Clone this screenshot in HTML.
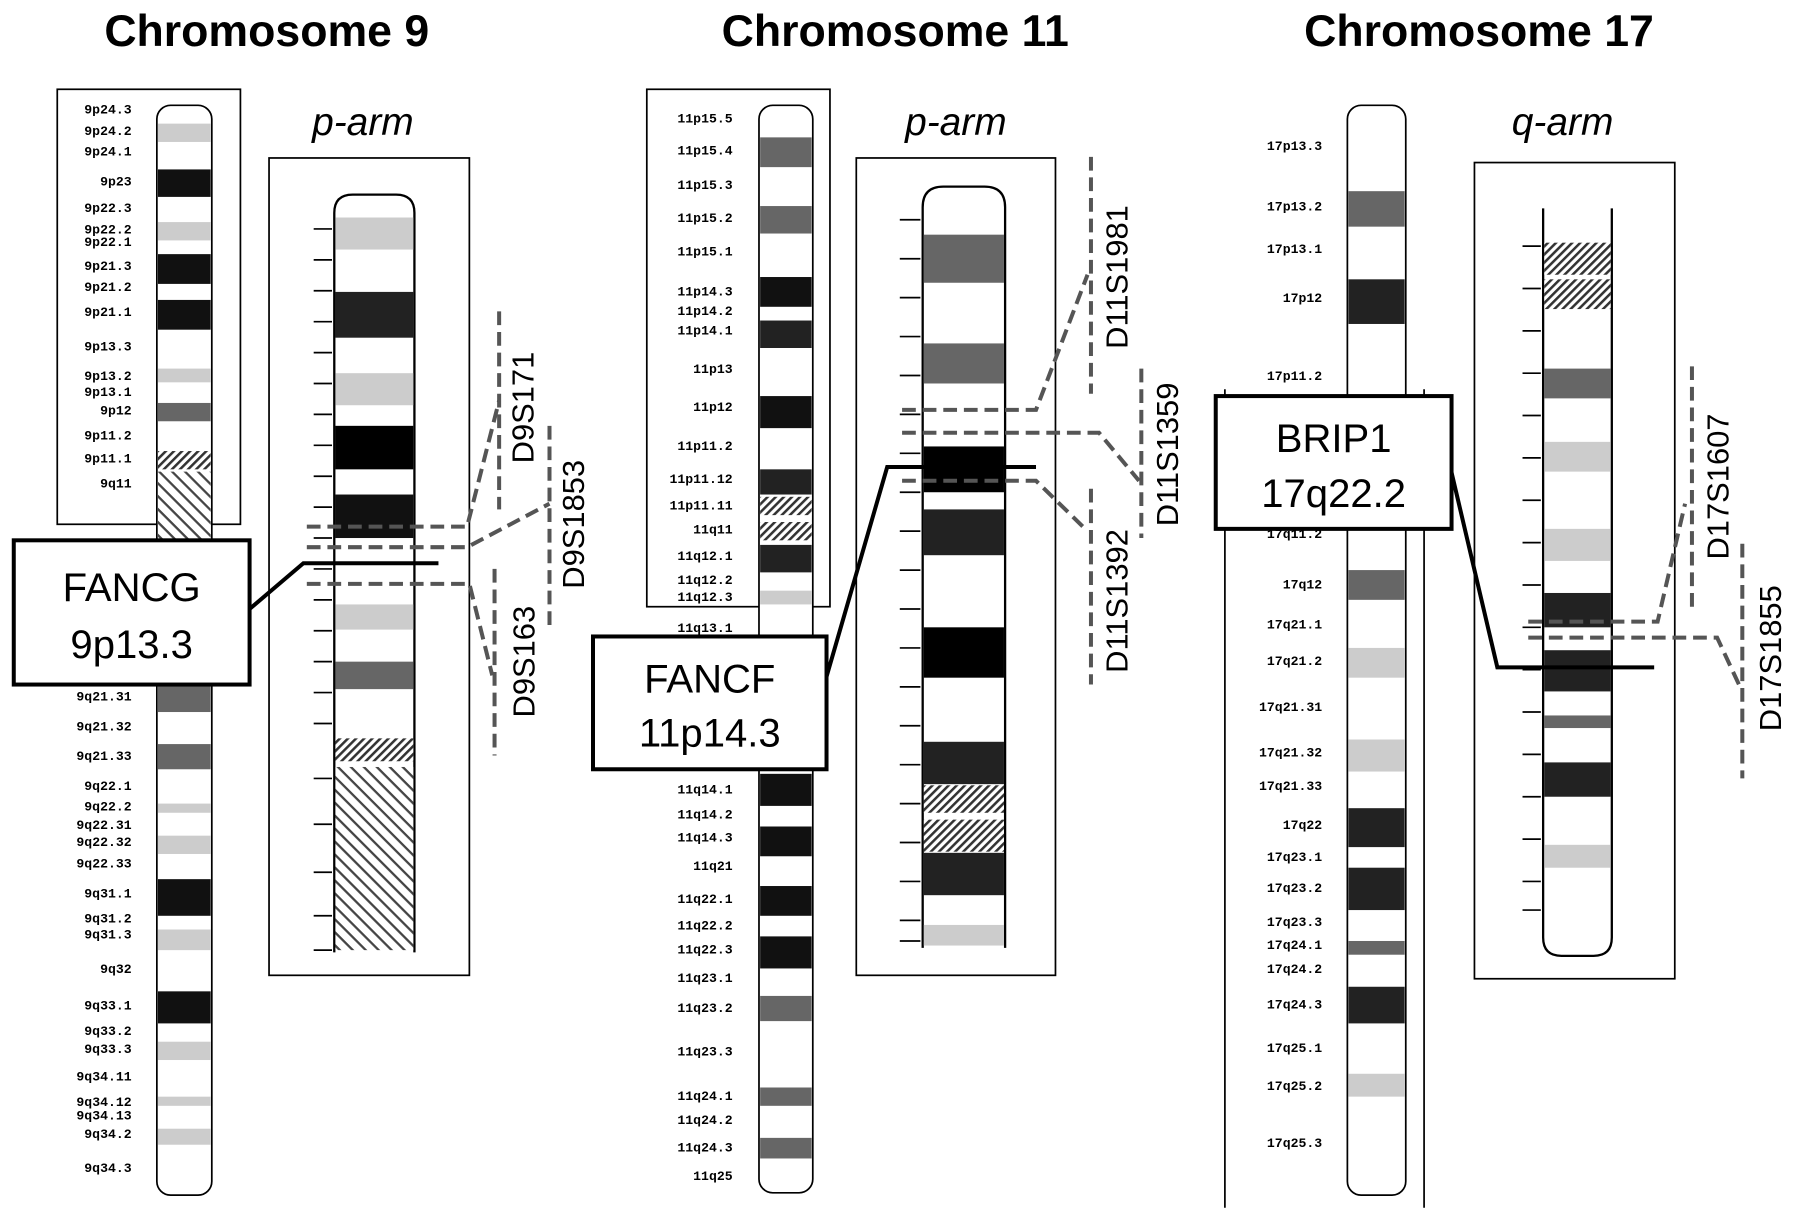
<!DOCTYPE html>
<html><head><meta charset="utf-8"><style>html,body{margin:0;padding:0;background:#fff}svg{display:block}</style></head>
<body>
<svg width="1795" height="1218" viewBox="0 0 1568 1064" xmlns="http://www.w3.org/2000/svg" font-family="Liberation Sans, sans-serif">
<defs>
<pattern id="h" width="5" height="5" patternUnits="userSpaceOnUse" patternTransform="rotate(-45)"><rect width="5" height="5" fill="#fff"/><rect width="5" height="2.2" fill="#333"/></pattern>
<pattern id="h2" width="8" height="8" patternUnits="userSpaceOnUse" patternTransform="rotate(45)"><rect width="8" height="8" fill="#fff"/><rect width="8" height="2" fill="#444"/></pattern>
</defs>
<g font-weight="bold" font-size="39" text-anchor="middle">
<text x="233" y="40">Chromosome 9</text><text x="782" y="40">Chromosome 11</text><text x="1292" y="40">Chromosome 17</text></g>
<g font-style="italic" font-size="34" text-anchor="middle">
<text x="317" y="118">p-arm</text><text x="835" y="118">p-arm</text><text x="1365" y="118">q-arm</text></g>

<!-- CHR 9 ideogram -->
<rect x="50" y="78" width="160" height="380" fill="none" stroke="#000" stroke-width="1.5"/>
<rect x="137" y="92" width="48" height="952" rx="12" fill="#fff" stroke="#000" stroke-width="1.5"/>
<g fill="#ccc"><rect x="138" y="108" width="46" height="16"/><rect x="138" y="194" width="46" height="16"/><rect x="138" y="322" width="46" height="12"/><rect x="138" y="702" width="46" height="8"/><rect x="138" y="730" width="46" height="16"/><rect x="138" y="812" width="46" height="18"/><rect x="138" y="910" width="46" height="16"/><rect x="138" y="958" width="46" height="8"/><rect x="138" y="986" width="46" height="14"/></g>
<g fill="#111"><rect x="138" y="148" width="46" height="24"/><rect x="138" y="222" width="46" height="26"/><rect x="138" y="262" width="46" height="26"/><rect x="138" y="768" width="46" height="32"/><rect x="138" y="866" width="46" height="28"/></g>
<g fill="#666"><rect x="138" y="352" width="46" height="16"/><rect x="138" y="598" width="46" height="24"/><rect x="138" y="650" width="46" height="22"/></g>
<rect x="138" y="394" width="46" height="16" fill="url(#h)"/><rect x="138" y="412" width="46" height="60" fill="url(#h2)"/>
<g font-family="Liberation Mono, monospace" font-size="11.5" font-weight="bold" text-anchor="end">
<text x="115" y="99">9p24.3</text><text x="115" y="118">9p24.2</text><text x="115" y="136">9p24.1</text><text x="115" y="162">9p23</text><text x="115" y="185">9p22.3</text><text x="115" y="204">9p22.2</text><text x="115" y="215">9p22.1</text><text x="115" y="236">9p21.3</text><text x="115" y="254">9p21.2</text><text x="115" y="276">9p21.1</text><text x="115" y="306">9p13.3</text><text x="115" y="332">9p13.2</text><text x="115" y="346">9p13.1</text><text x="115" y="362">9p12</text><text x="115" y="384">9p11.2</text><text x="115" y="404">9p11.1</text><text x="115" y="426">9q11</text><text x="115" y="612">9q21.31</text><text x="115" y="638">9q21.32</text><text x="115" y="664">9q21.33</text><text x="115" y="690">9q22.1</text><text x="115" y="708">9q22.2</text><text x="115" y="724">9q22.31</text><text x="115" y="739">9q22.32</text><text x="115" y="758">9q22.33</text><text x="115" y="784">9q31.1</text><text x="115" y="806">9q31.2</text><text x="115" y="820">9q31.3</text><text x="115" y="850">9q32</text><text x="115" y="882">9q33.1</text><text x="115" y="904">9q33.2</text><text x="115" y="920">9q33.3</text><text x="115" y="944">9q34.11</text><text x="115" y="966">9q34.12</text><text x="115" y="978">9q34.13</text><text x="115" y="994">9q34.2</text><text x="115" y="1024">9q34.3</text></g>
<!-- 9 p-arm -->
<rect x="235" y="138" width="175" height="714" fill="none" stroke="#000" stroke-width="1.5"/>
<path d="M292 832 V186 Q292 170 308 170 H346 Q362 170 362 186 V832" fill="#fff" stroke="#000" stroke-width="2"/>
<g fill="#ccc"><rect x="293" y="190" width="68" height="28"/><rect x="293" y="326" width="68" height="28"/><rect x="293" y="528" width="68" height="22"/></g>
<rect x="293" y="255" width="68" height="40" fill="#222"/><rect x="293" y="372" width="68" height="38" fill="#000"/><rect x="293" y="432" width="68" height="38" fill="#111"/><rect x="293" y="578" width="68" height="24" fill="#666"/>
<rect x="293" y="645" width="68" height="20" fill="url(#h)"/><rect x="293" y="670" width="68" height="160" fill="url(#h2)"/>
<path d="M274 200 H290 M274 227 H290 M274 254 H290 M274 281 H290 M274 308 H290 M274 335 H290 M274 362 H290 M274 389 H290 M274 416 H290 M274 443 H290 M274 470 H290 M274 497 H290 M274 524 H290 M274 551 H290 M274 578 H290 M274 605 H290 M274 632 H290 M274 680 H290 M274 720 H290 M274 762 H290 M274 800 H290 M274 830 H290" stroke="#000" stroke-width="1.5"/>
<g stroke="#555" stroke-width="3.5" stroke-dasharray="12,6" fill="none">
<path d="M268 460 H408 L436 350"/><path d="M436 272 V445"/>
<path d="M268 478 H408 L480 440"/><path d="M480 372 V550"/>
<path d="M268 510 H410 L430 590"/><path d="M432 497 V660"/></g>
<path d="M218 532 L265 492 H383" stroke="#000" stroke-width="3.5" fill="none"/>
<rect x="12" y="472" width="206" height="126" fill="#fff" stroke="#000" stroke-width="3.5"/>
<text x="115" y="525" font-size="35" text-anchor="middle">FANCG</text><text x="115" y="575" font-size="35" text-anchor="middle">9p13.3</text>
<g font-size="27" text-anchor="middle"><text transform="translate(466 356) rotate(-90)">D9S171</text><text transform="translate(510 458) rotate(-90)">D9S1853</text><text transform="translate(467 578) rotate(-90)">D9S163</text></g>

<!-- CHR 11 ideogram -->
<rect x="565" y="78" width="160" height="452" fill="none" stroke="#000" stroke-width="1.5"/>
<rect x="663" y="92" width="47" height="950" rx="12" fill="#fff" stroke="#000" stroke-width="1.5"/>
<g fill="#666"><rect x="664" y="120" width="45" height="26"/><rect x="664" y="180" width="45" height="24"/><rect x="664" y="870" width="45" height="22"/><rect x="664" y="950" width="45" height="16"/><rect x="664" y="994" width="45" height="18"/></g>
<g fill="#111"><rect x="664" y="242" width="45" height="26"/><rect x="664" y="280" width="45" height="24" fill="#222"/><rect x="664" y="346" width="45" height="28"/><rect x="664" y="410" width="45" height="22" fill="#222"/><rect x="664" y="476" width="45" height="24" fill="#222"/><rect x="664" y="676" width="45" height="28"/><rect x="664" y="722" width="45" height="26"/><rect x="664" y="774" width="45" height="26"/><rect x="664" y="818" width="45" height="28"/></g>
<rect x="664" y="516" width="45" height="12" fill="#ccc"/>
<rect x="664" y="434" width="45" height="16" fill="url(#h)"/><rect x="664" y="456" width="45" height="16" fill="url(#h)"/>
<g font-family="Liberation Mono, monospace" font-size="11.5" font-weight="bold" text-anchor="end">
<text x="640" y="107">11p15.5</text><text x="640" y="135">11p15.4</text><text x="640" y="165">11p15.3</text><text x="640" y="194">11p15.2</text><text x="640" y="223">11p15.1</text><text x="640" y="258">11p14.3</text><text x="640" y="275">11p14.2</text><text x="640" y="292">11p14.1</text><text x="640" y="326">11p13</text><text x="640" y="359">11p12</text><text x="640" y="393">11p11.2</text><text x="640" y="422">11p11.12</text><text x="640" y="445">11p11.11</text><text x="640" y="466">11q11</text><text x="640" y="489">11q12.1</text><text x="640" y="510">11q12.2</text><text x="640" y="525">11q12.3</text><text x="640" y="552">11q13.1</text><text x="640" y="693">11q14.1</text><text x="640" y="715">11q14.2</text><text x="640" y="735">11q14.3</text><text x="640" y="760">11q21</text><text x="640" y="789">11q22.1</text><text x="640" y="812">11q22.2</text><text x="640" y="833">11q22.3</text><text x="640" y="858">11q23.1</text><text x="640" y="884">11q23.2</text><text x="640" y="922">11q23.3</text><text x="640" y="961">11q24.1</text><text x="640" y="982">11q24.2</text><text x="640" y="1006">11q24.3</text><text x="640" y="1031">11q25</text></g>
<!-- 11 p-arm -->
<rect x="748" y="138" width="174" height="714" fill="none" stroke="#000" stroke-width="1.5"/>
<path d="M806 828 V181 Q806 163 824 163 H860 Q878 163 878 181 V828" fill="#fff" stroke="#000" stroke-width="2"/>
<g fill="#666"><rect x="807" y="205" width="70" height="42"/><rect x="807" y="300" width="70" height="35"/></g>
<rect x="807" y="390" width="70" height="40" fill="#000"/><rect x="807" y="445" width="70" height="40" fill="#222"/><rect x="807" y="548" width="70" height="44" fill="#000"/><rect x="807" y="648" width="70" height="37" fill="#222"/><rect x="807" y="745" width="70" height="37" fill="#222"/><rect x="807" y="808" width="70" height="18" fill="#ccc"/>
<rect x="807" y="686" width="70" height="24" fill="url(#h)"/><rect x="807" y="716" width="70" height="28" fill="url(#h)"/>
<path d="M786 192 H804 M786 226 H804 M786 260 H804 M786 294 H804 M786 328 H804 M786 362 H804 M786 396 H804 M786 430 H804 M786 464 H804 M786 498 H804 M786 532 H804 M786 566 H804 M786 600 H804 M786 634 H804 M786 668 H804 M786 702 H804 M786 736 H804 M786 770 H804 M786 804 H804 M786 822 H804" stroke="#000" stroke-width="1.5"/>
<g stroke="#555" stroke-width="3.5" stroke-dasharray="12,6" fill="none">
<path d="M788 358 H905 L950 240"/><path d="M953 137 V344"/>
<path d="M788 378 H960 L995 420"/><path d="M997 322 V470"/>
<path d="M788 420 H905 L948 462"/><path d="M953 427 V598"/></g>
<path d="M720 598 L775 408 H905" stroke="#000" stroke-width="3.5" fill="none"/>
<rect x="518" y="556" width="204" height="116" fill="#fff" stroke="#000" stroke-width="3.5"/>
<text x="620" y="605" font-size="35" text-anchor="middle">FANCF</text><text x="620" y="652" font-size="35" text-anchor="middle">11p14.3</text>
<g font-size="27" text-anchor="middle"><text transform="translate(985 242) rotate(-90)">D11S1981</text><text transform="translate(1029 397) rotate(-90)">D11S1359</text><text transform="translate(985 525) rotate(-90)">D11S1392</text></g>

<!-- CHR 17 ideogram -->
<path d="M1070 340 V1055 M1244 340 V1055" stroke="#000" stroke-width="1.5"/>
<rect x="1177" y="92" width="51" height="952" rx="12" fill="#fff" stroke="#000" stroke-width="1.5"/>
<g fill="#666"><rect x="1178" y="167" width="49" height="31"/><rect x="1178" y="498" width="49" height="26"/><rect x="1178" y="822" width="49" height="12"/></g>
<g fill="#ccc"><rect x="1178" y="566" width="49" height="26"/><rect x="1178" y="646" width="49" height="28"/><rect x="1178" y="938" width="49" height="20"/></g>
<g fill="#222"><rect x="1178" y="244" width="49" height="39"/><rect x="1178" y="706" width="49" height="34"/><rect x="1178" y="758" width="49" height="37"/><rect x="1178" y="862" width="49" height="32"/></g>
<g font-family="Liberation Mono, monospace" font-size="11.5" font-weight="bold" text-anchor="end">
<text x="1155" y="131">17p13.3</text><text x="1155" y="184">17p13.2</text><text x="1155" y="221">17p13.1</text><text x="1155" y="264">17p12</text><text x="1155" y="332">17p11.2</text><text x="1155" y="470">17q11.2</text><text x="1155" y="514">17q12</text><text x="1155" y="549">17q21.1</text><text x="1155" y="581">17q21.2</text><text x="1155" y="621">17q21.31</text><text x="1155" y="661">17q21.32</text><text x="1155" y="690">17q21.33</text><text x="1155" y="724">17q22</text><text x="1155" y="752">17q23.1</text><text x="1155" y="779">17q23.2</text><text x="1155" y="809">17q23.3</text><text x="1155" y="829">17q24.1</text><text x="1155" y="850">17q24.2</text><text x="1155" y="881">17q24.3</text><text x="1155" y="919">17q25.1</text><text x="1155" y="952">17q25.2</text><text x="1155" y="1002">17q25.3</text></g>
<!-- 17 q-arm -->
<rect x="1288" y="142" width="175" height="713" fill="none" stroke="#000" stroke-width="1.5"/>
<path d="M1348 182 V819 Q1348 835 1364 835 H1392 Q1408 835 1408 819 V182" fill="#fff" stroke="#000" stroke-width="2"/>
<rect x="1349" y="212" width="58" height="28" fill="url(#h)"/><rect x="1349" y="244" width="58" height="26" fill="url(#h)"/>
<rect x="1349" y="322" width="58" height="26" fill="#666"/><rect x="1349" y="386" width="58" height="26" fill="#ccc"/><rect x="1349" y="462" width="58" height="28" fill="#ccc"/><rect x="1349" y="518" width="58" height="30" fill="#222"/><rect x="1349" y="568" width="58" height="36" fill="#222"/><rect x="1349" y="625" width="58" height="11" fill="#666"/><rect x="1349" y="666" width="58" height="30" fill="#222"/><rect x="1349" y="738" width="58" height="20" fill="#ccc"/>
<path d="M1330 215 H1346 M1330 252 H1346 M1330 289 H1346 M1330 326 H1346 M1330 363 H1346 M1330 400 H1346 M1330 437 H1346 M1330 474 H1346 M1330 511 H1346 M1330 548 H1346 M1330 585 H1346 M1330 622 H1346 M1330 659 H1346 M1330 696 H1346 M1330 733 H1346 M1330 770 H1346 M1330 795 H1346" stroke="#000" stroke-width="1.5"/>
<g stroke="#555" stroke-width="3.5" stroke-dasharray="12,6" fill="none">
<path d="M1335 543 H1448 L1472 440"/><path d="M1478 320 V530"/>
<path d="M1335 557 H1500 L1520 600"/><path d="M1522 475 V680"/></g>
<path d="M1265 400 L1308 583 H1445" stroke="#000" stroke-width="3.5" fill="none"/>
<rect x="1062" y="346" width="206" height="116" fill="#fff" stroke="#000" stroke-width="3.5"/>
<text x="1165" y="395" font-size="35" text-anchor="middle">BRIP1</text><text x="1165" y="443" font-size="35" text-anchor="middle">17q22.2</text>
<g font-size="27" text-anchor="middle"><text transform="translate(1510 425) rotate(-90)">D17S1607</text><text transform="translate(1556 575) rotate(-90)">D17S1855</text></g>
</svg>
</body></html>
